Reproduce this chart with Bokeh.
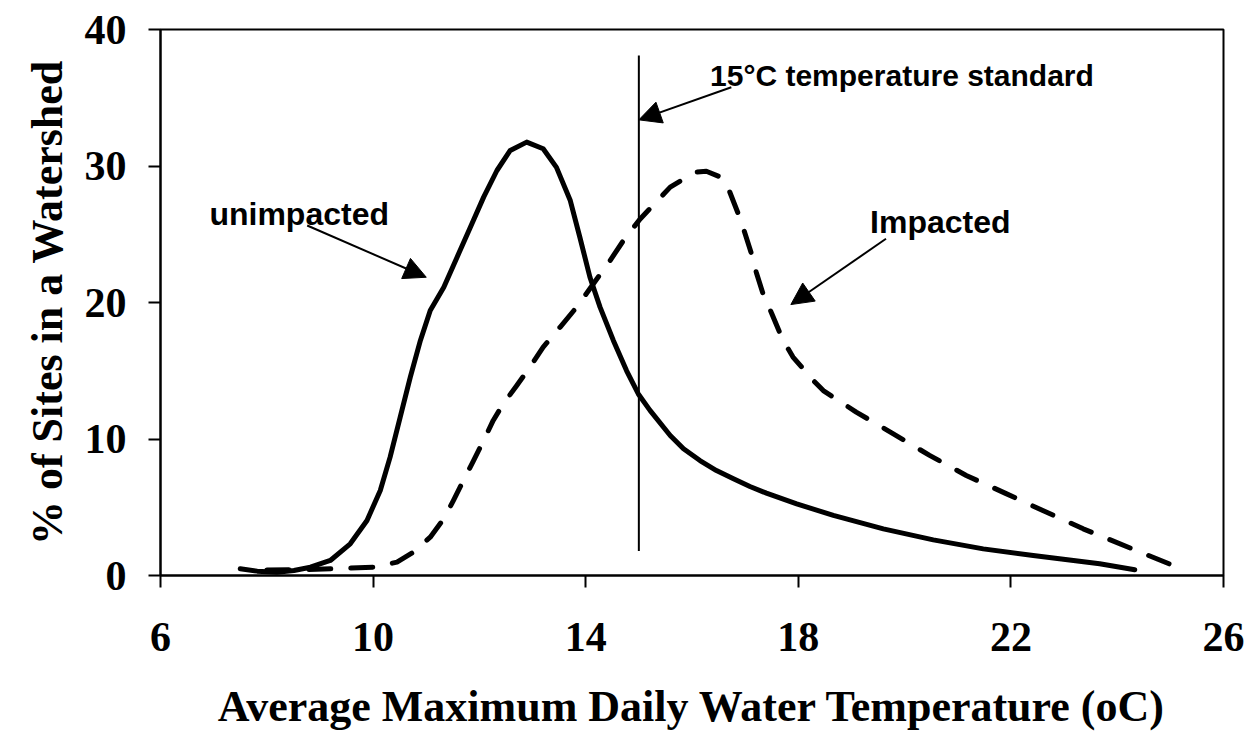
from bokeh.plotting import figure
from bokeh.models import Range1d, Arrow, NormalHead, Label
from bokeh.embed import file_html
from bokeh.resources import INLINE

# Unimpacted watersheds (solid curve)
unimpacted_x = [7.5, 7.82, 8.19, 8.51, 8.82, 9.195, 9.57, 9.885, 10.135, 10.32, 10.51,
                10.70, 10.89, 11.075, 11.33, 11.58, 11.83, 12.08, 12.33, 12.58, 12.89,
                13.2, 13.45, 13.71, 13.89, 14.08, 14.27, 14.52, 14.77, 14.99, 15.21,
                15.59, 15.84, 16.15, 16.46, 16.78, 17.09, 17.4, 17.97, 18.66, 19.6,
                20.54, 21.48, 22.42, 23.67, 24.33]
unimpacted_y = [0.49, 0.32, 0.24, 0.37, 0.61, 1.10, 2.32, 4.03, 6.23, 8.67, 11.6,
                14.53, 17.22, 19.41, 21.12, 23.32, 25.52, 27.72, 29.67, 31.14, 31.75,
                31.26, 29.9, 27.47, 24.78, 21.85, 19.66, 17.22, 15.0, 13.3, 12.1,
                10.26, 9.28, 8.42, 7.69, 7.08, 6.52, 6.03, 5.25, 4.40, 3.42,
                2.61, 1.95, 1.47, 0.86, 0.42]

# Impacted watersheds (dashed curve)
impacted_x = [8.0, 8.6, 9.3, 10.0, 10.45, 10.76, 11.075, 11.33, 11.51, 11.70, 11.89,
              12.08, 12.26, 12.45, 12.70, 12.95, 13.2, 13.52, 13.83, 14.145, 14.46,
              14.71, 15.02, 15.59, 16.06, 16.27, 16.53, 16.71, 16.87, 16.99, 17.12,
              17.21, 17.34, 17.5, 17.65, 17.81, 17.9, 18.28, 18.47, 19.09, 19.78,
              20.47, 21.16, 21.91, 22.6, 23.36, 24.98]
impacted_y = [0.40, 0.42, 0.50, 0.61, 0.98, 1.71, 2.81, 4.15, 5.49, 6.96, 8.42,
              9.89, 11.36, 12.58, 13.9, 15.26, 16.73, 18.2, 19.66, 21.37, 23.08,
              24.54, 26.1, 28.45, 29.55, 29.62, 29.2, 28.1, 26.5, 25.15, 23.55,
              22.2, 20.6, 19.2, 17.8, 16.6, 16.0, 14.3, 13.55, 11.97, 10.4,
              8.8, 7.33, 6.0, 4.76, 3.42, 0.85]

# 15 degC temperature standard
standard_x = [15, 15]
standard_y = [1.8, 38.1]

x_ticks = [6, 10, 14, 18, 22, 26]
y_ticks = [0, 10, 20, 30, 40]

p = figure(width=1255, height=738, output_backend="svg", toolbar_location=None,
           x_range=Range1d(6, 26), y_range=Range1d(0, 40),
           min_border_left=160, min_border_right=32, min_border_top=29,
           min_border_bottom=163)
p.background_fill_color = "white"
p.border_fill_color = "white"
p.xgrid.visible = False
p.ygrid.visible = False
p.outline_line_color = "black"
p.outline_line_width = 2
p.outline_line_alpha = 1.0

p.xaxis.ticker = x_ticks
p.yaxis.ticker = y_ticks
for ax in (p.xaxis[0], p.yaxis[0]):
    ax.axis_line_color = "black"
    ax.axis_line_width = 2
    ax.major_tick_line_color = "black"
    ax.major_tick_line_width = 2
    ax.major_tick_out = 12
    ax.major_tick_in = 0
    ax.minor_tick_out = 0
    ax.minor_tick_in = 0
    ax.major_label_text_font = "Liberation Serif"
    ax.major_label_text_font_style = "bold"
    ax.major_label_text_font_size = "42px"
    ax.major_label_text_color = "black"
    ax.axis_label_text_font = "Liberation Serif"
    ax.axis_label_text_font_style = "bold"
    ax.axis_label_text_font_size = "44px"
    ax.axis_label_text_color = "black"

p.xaxis.axis_label = "Average Maximum Daily Water Temperature (oC)"
p.yaxis.axis_label = "% of Sites in a Watershed"
p.xaxis.major_label_standoff = 35
p.yaxis.major_label_standoff = 22
p.xaxis.axis_label_standoff = 28
p.yaxis.axis_label_standoff = 10

p.line(unimpacted_x, unimpacted_y, line_color="black", line_width=5,
       line_cap="round", line_join="round")
p.line(impacted_x, impacted_y, line_color="black", line_width=5,
       line_dash="22 20", line_cap="round", line_join="round")
p.line(standard_x, standard_y, line_color="black", line_width=2)

def arrow(xs, ys, xe, ye):
    p.add_layout(Arrow(end=NormalHead(size=22, fill_color="black", line_color="black"),
                       x_start=xs, y_start=ys, x_end=xe, y_end=ye,
                       line_color="black", line_width=2))

arrow(16.74, 35.77, 15.0, 33.38)
arrow(8.76, 25.64, 11.0, 21.85)
arrow(19.65, 24.67, 17.86, 19.85)

def label(x, y, t, size):
    p.add_layout(Label(x=x, y=y, text=t, text_font="Liberation Sans",
                       text_font_style="bold", text_font_size=size,
                       text_color="black", text_baseline="alphabetic"))

label(16.34, 36.63, "15°C temperature standard", "30px")
label(6.92, 26.45, "unimpacted", "32px")
label(19.35, 25.9, "Impacted", "32px")

open("out.html", "w").write(file_html(p, INLINE))
